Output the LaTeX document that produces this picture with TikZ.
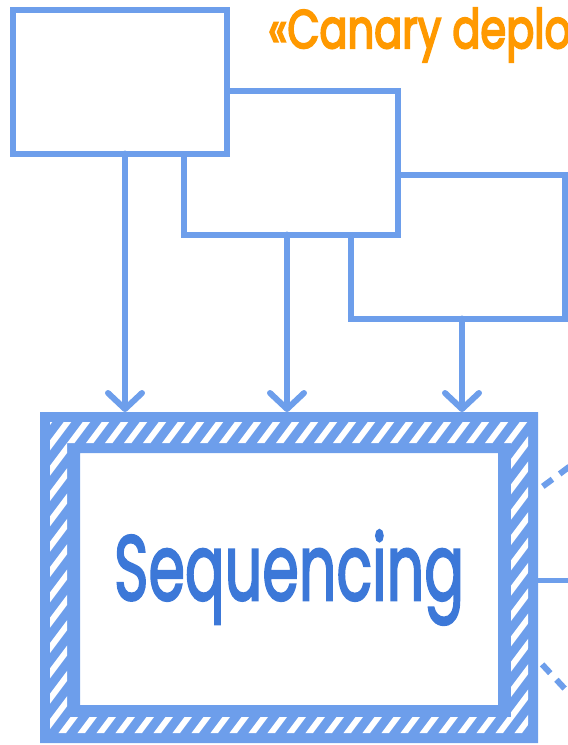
\documentclass[tikz,border=0pt]{standalone}
\usepackage{fontspec}
\setmainfont{Poppins}
\newfontfamily\seqfont{Poppins}[FakeBold=2.6]
\newfontfamily\labfont{Poppins}[FakeBold=4]
\usetikzlibrary{arrows.meta,calc}
\definecolor{lineblue}{HTML}{6D9EEB}
\definecolor{textblue}{HTML}{3C78D8}
\definecolor{canaryorange}{HTML}{FF9900}
\begin{document}
\begin{tikzpicture}[x=1pt,y=-1pt,
  boxnode/.style={draw=lineblue, line width=6pt, fill=white, minimum width=214pt, minimum height=144pt, inner sep=0pt, outer sep=0pt},
  flow/.style={draw=lineblue, line width=6pt, line cap=round, -{Straight Barb[length=16pt,width=34pt,line cap=round,line join=round]}},
  dashline/.style={draw=lineblue, line width=6pt, dash pattern=on 12pt off 9pt, dash phase=-6pt},
  solidline/.style={draw=lineblue, line width=5pt},
  seqbox/.style={minimum width=498pt, minimum height=331pt, inner sep=0pt, outer sep=0pt, text=textblue},
  stripe/.style={draw=white, line width=6pt}]
\useasboundingbox (0,0) rectangle (568,745);
\clip (0,0) rectangle (568,745);
% top boxes (drawn back to front)
\node[boxnode] (b3) at (457.5,246.5) {};
\node[boxnode] (b2) at (290.5,162.5) {};
\node[boxnode] (b1) at (120,81.5) {};
% sequencing box
\node[seqbox] (seq) at (289,577.5) {\resizebox*{350pt}{95pt}{\fontsize{60}{60}\seqfont Sequencing}};
\fill[lineblue, even odd rule] (seq.north west) rectangle (seq.south east)
  ([shift={(40pt,-41pt)}]seq.north west) rectangle ([shift={(-40pt,38pt)}]seq.south east);
\begin{scope}[even odd rule]
  \clip ([shift={(10pt,-10pt)}]seq.north west) rectangle ([shift={(-10pt,10pt)}]seq.south east)
    ([shift={(27pt,-31pt)}]seq.north west) rectangle ([shift={(-27pt,26pt)}]seq.south east);
  \foreach \i in {0,...,50} {
    \draw[stripe] (\i*19-300, 760) -- ++(300,-400);
  }
\end{scope}
% arrows
\draw[flow] ([xshift=5pt]b1.south) -- ([xshift=5pt]b1.south |- seq.north);
\draw[flow] ([xshift=-3.5pt]b2.south) -- ([xshift=-3.5pt]b2.south |- seq.north);
\draw[flow] ([xshift=4.5pt]b3.south) -- ([xshift=4.5pt]b3.south |- seq.north);
% outgoing connectors
\coordinate (up) at (585,455);
\coordinate (mid) at (580,580);
\coordinate (down) at (580,705);
\draw[dashline] ([yshift=87.5pt]seq.east) -- (up);
\draw[solidline] ([yshift=-2.5pt]seq.east) -- (mid);
\draw[dashline] ([yshift=-82.5pt]seq.east) -- (down);
% stereotype label
\node[anchor=base west, inner sep=0pt, text=canaryorange] (title) at (268,48)
  {\scalebox{0.77}[1]{\fontsize{54}{54}\labfont «Canary deployment»}};
\end{tikzpicture}
\end{document}
